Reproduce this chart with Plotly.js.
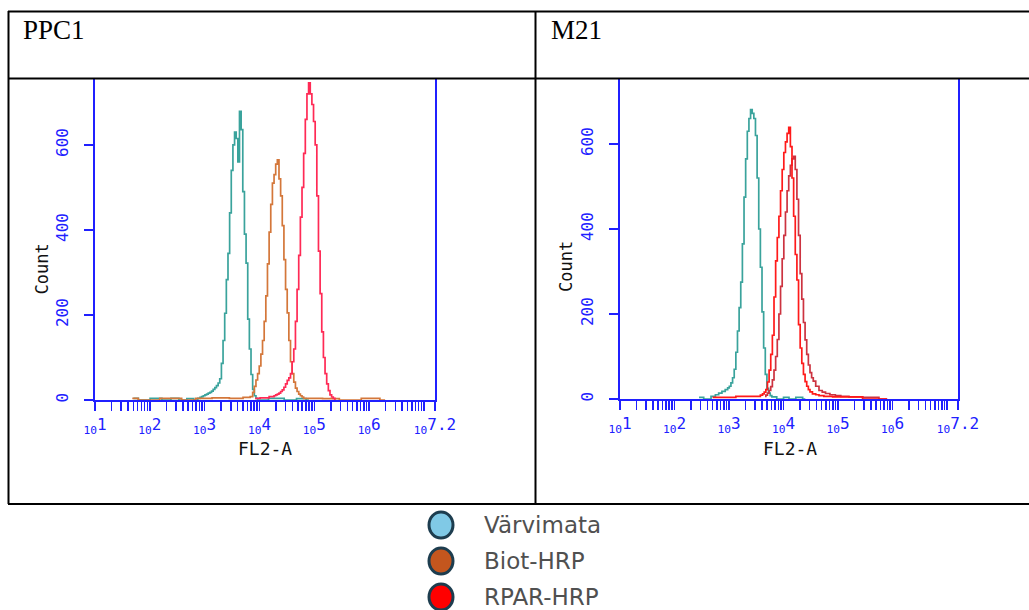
<!DOCTYPE html>
<html><head><meta charset="utf-8">
<script src="https://cdn.plot.ly/plotly-3.0.1.min.js"></script>
<style>html,body{margin:0;padding:0;background:#fff;} #chart{width:1029px;height:610px;}</style>
</head><body><div id="chart"></div>
<script>
// ---------------- DATA ----------------
const panelTitles = ["PPC1", "M21"];
const seriesNames = ["Värvimata", "Biot-HRP", "RPAR-HRP"];
const xAxisTitle = "FL2-A";
const yAxisTitle = "Count";
const xTickExp = [1, 2, 3, 4, 5, 6, 7.2];
const xTickText = ["<sub>10</sub>1", "<sub>10</sub>2", "<sub>10</sub>3", "<sub>10</sub>4", "<sub>10</sub>5", "<sub>10</sub>6", "<sub>10</sub>7.2"];
const yTickVals = [0, 200, 400, 600];
const yTickText = ["0", "200", "400", "600"];

// PPC1 histograms: bin position (log10 of FL2-A) and count
const ppcVarvLog = [1.70,1.88,2.13,2.31,2.46,2.60,2.75,2.85,
  2.90,2.93,2.96,2.99,3.02,3.05,3.08,3.11,3.14,3.17,3.20,3.23,3.26,3.29,3.32,3.35,3.38,3.41,3.44,3.47,3.50,3.53,3.56,3.59,3.62,3.65,3.68,3.71,3.74,3.77,3.80,3.83,3.86,3.89,3.92,3.95,3.98,
  4.35,4.55,4.80,4.90];
const ppcVarvCount = [4,0,4,0,4,0,3,0,
  4,6,8,10,12,14,16,18,21,25,29,34,40,50,86,140,204,283,345,440,540,600,630,615,560,679,636,490,390,322,190,120,60,25,10,4,0,
  4,0,3,0];

const ppcBiotLog = [1.68,1.90,2.46,2.70,2.97,3.30,3.60,3.80,
  3.86,3.89,3.92,3.95,3.98,4.01,4.04,4.07,4.10,4.13,4.16,4.19,4.22,4.25,4.28,4.31,4.34,4.37,4.40,4.43,4.46,4.49,4.52,4.55,4.58,4.61,4.64,4.67,4.70,4.73,4.76,4.79,4.82,
  5.00,5.30,5.61,6.10,6.29];
const ppcBiotCount = [4,0,4,0,4,5,4,6,
  8,18,32,47,62,80,108,140,185,245,320,395,460,510,530,555,565,520,480,410,330,260,205,140,90,62,42,28,20,14,10,7,4,
  4,3,0,4,0];

const ppcRparLog = [3.92,4.10,
  4.25,4.28,4.31,4.34,4.37,4.40,4.43,4.46,4.49,4.52,4.55,4.58,4.61,4.64,4.67,4.70,4.73,4.76,4.79,4.82,4.85,4.88,4.91,4.94,4.97,5.00,5.03,5.06,5.09,5.12,5.15,5.18,5.21,5.24,5.27,5.30,5.33,5.36,5.39];
const ppcRparCount = [4,5,
  8,10,12,14,16,20,24,30,38,46,52,62,90,120,185,260,340,430,500,580,660,720,746,720,695,655,600,480,350,250,160,100,62,38,22,12,7,4,0];

// M21 histograms
const m21VarvLog = [2.45,2.62,
  2.72,2.78,2.84,2.90,2.96,
  2.99,3.02,3.05,3.08,3.11,3.14,3.17,3.20,3.23,3.26,3.29,3.32,3.35,3.38,3.41,3.44,3.47,3.50,3.53,3.56,3.59,3.62,3.65,3.68,3.71,3.74,3.77,3.80,
  3.95,4.05,4.15,4.30,4.40];
const m21VarvCount = [4,0,
  6,10,14,18,22,
  26,30,38,50,70,110,160,215,275,365,475,565,630,660,681,672,660,620,520,400,310,205,120,58,25,14,8,5,
  0,4,0,4,0];

const m21BiotLog = [3.66,3.69,3.72,3.75,3.78,3.81,3.84,3.87,3.90,3.93,3.96,3.99,4.02,4.05,4.08,4.11,4.14,4.17,4.20,4.23,4.26,4.29,4.32,4.35,4.38,4.41,4.44,4.47,4.50,4.53,4.56,
  4.62,4.68,4.74,4.80,4.90,5.00,5.10,5.30,5.60,5.90];
const m21BiotCount = [6,9,14,20,29,45,68,100,140,200,265,330,385,440,490,525,550,565,571,540,470,385,295,235,180,139,105,80,62,50,42,
  30,20,16,13,10,8,6,5,4,0];

const m21RparLog = [2.70,3.55,
  3.60,3.63,3.66,3.69,3.72,3.75,3.78,3.81,3.84,3.87,3.90,3.93,3.96,3.99,4.02,4.05,4.08,4.11,4.14,4.17,4.20,4.23,4.26,4.29,4.32,4.35,4.38,4.41,4.44,4.47,4.50,
  4.56,4.62,4.68,4.80,5.00,5.90];
const m21RparCount = [4,6,
  9,12,16,22,40,68,105,150,240,325,380,430,490,540,580,605,625,639,594,520,430,340,280,175,120,84,58,41,30,22,17,
  12,10,8,6,5,0];

// ---------------- STYLE ----------------
const W = 1029, H = 610;
const BLUE = "#2020ff";
const px = v => v / W;
const py = v => 1 - v / H;
const toVal = arr => arr.map(L => Math.pow(10, L));

function hist(logs, counts, color, xa, ya, name) {
  return {x: toVal(logs), y: counts, type: "scatter", mode: "lines",
    line: {shape: "hvh", width: 1.7, color: color}, xaxis: xa, yaxis: ya,
    name: name, showlegend: false, hoverinfo: "skip"};
}

const traces = [
  hist(ppcVarvLog, ppcVarvCount, "#3aa39c", "x", "y", seriesNames[0]),
  hist(ppcBiotLog, ppcBiotCount, "#d4773a", "x", "y", seriesNames[1]),
  hist(ppcRparLog, ppcRparCount, "#ff2a55", "x", "y", seriesNames[2]),
  hist(m21VarvLog, m21VarvCount, "#3aa39c", "x2", "y2", seriesNames[0]),
  hist(m21BiotLog, m21BiotCount, "#cc3340", "x2", "y2", seriesNames[1]),
  hist(m21RparLog, m21RparCount, "#ff1a1a", "x2", "y2", seriesNames[2])
];

// labelled ticks at decades (and the 10^7.2 end), log minor ticks in between
const majorVals = xTickExp.map(e => Math.pow(10, e));
const minorVals = [];
for (let d = 1; d <= 7; d++) {
  for (let k = 2; k <= 9; k++) {
    const v = k * Math.pow(10, d);
    if (Math.log10(v) < 7.2) minorVals.push(v);
  }
}
minorVals.push(Math.pow(10, 7));

function xaxisCfg(domain) {
  return {domain: domain, type: "log", range: [1, 7.2], showgrid: false, zeroline: false,
    showline: true, linecolor: BLUE, linewidth: 2, ticks: "outside", ticklen: 9, tickwidth: 1.5,
    tickcolor: BLUE, tickmode: "array", tickvals: majorVals, ticktext: xTickText,
    minor: {tickmode: "array", tickvals: minorVals, ticks: "outside", ticklen: 9, tickwidth: 1.5,
      tickcolor: BLUE, showgrid: false},
    tickfont: {family: "DejaVu Sans Mono", size: 16, color: BLUE}, ticklabelstandoff: 0,
    tickangle: 0, fixedrange: true};
}
function yaxisCfg(domain, top, anchor) {
  return {domain: domain, range: [0, top], showgrid: false, zeroline: false, anchor: anchor,
    showline: true, mirror: true, linecolor: BLUE, linewidth: 2, ticks: "outside", ticklen: 9,
    tickwidth: 1.5, tickcolor: BLUE, tickmode: "array", tickvals: yTickVals, ticktext: yTickText,
    tickfont: {family: "DejaVu Sans Mono", size: 16, color: BLUE}, tickangle: -90,
    ticklabelstandoff: 10, fixedrange: true};
}

function hline(x0, x1, y, w) {
  return {type: "line", xref: "paper", yref: "paper", x0: px(x0), x1: px(x1), y0: py(y), y1: py(y),
    line: {color: "#000", width: w || 2}};
}
function vline(x, y0, y1, w) {
  return {type: "line", xref: "paper", yref: "paper", x0: px(x), x1: px(x), y0: py(y0), y1: py(y1),
    line: {color: "#000", width: w || 2}};
}

const legendFill = ["#80c9e6", "#c4561e", "#ff0000"];
const legendY = [525, 561, 597];

const shapes = [
  hline(8, 1029, 11.5), hline(8, 1029, 78.5), hline(8, 1029, 504),
  vline(8.5, 11, 504), vline(535.5, 11, 504)
];
legendY.forEach((yc, i) => {
  shapes.push({type: "circle", xref: "paper", yref: "paper",
    x0: px(429), x1: px(453), y0: py(yc - 13), y1: py(yc + 13),
    fillcolor: legendFill[i], line: {color: "#1d3d4f", width: 3}});
});

const annotations = [];
function addText(text, x, y, font, opts) {
  annotations.push(Object.assign({text: text, x: px(x), y: py(y), xref: "paper", yref: "paper",
    xanchor: "center", yanchor: "middle", showarrow: false, font: font}, opts || {}));
}
const titleFont = {family: "Liberation Serif", size: 27, color: "#000"};
addText(panelTitles[0], 21, 30, titleFont, {xanchor: "left"});
addText(panelTitles[1], 549, 30, titleFont, {xanchor: "left"});
const yTitleFont = {family: "DejaVu Sans Mono", size: 17, color: "#111"};
addText(yAxisTitle, 41.5, 269, yTitleFont, {textangle: -90});
addText(yAxisTitle, 566, 267, yTitleFont, {textangle: -90});
const xTitleFont = {family: "DejaVu Sans Mono", size: 18, color: "#111"};
addText(xAxisTitle, 265, 448, xTitleFont);
addText(xAxisTitle, 790, 448, xTitleFont);
const legFont = {family: "DejaVu Sans", size: 23, color: "#505050"};
legendY.forEach((yc, i) => addText(seriesNames[i], 482, yc, legFont, {xanchor: "left"}));

const layout = {
  width: W, height: H, margin: {l: 0, r: 0, t: 0, b: 0},
  paper_bgcolor: "#fff", plot_bgcolor: "#fff", showlegend: false,
  xaxis: Object.assign(xaxisCfg([px(95), px(435)]), {anchor: "y"}),
  yaxis: yaxisCfg([py(400), py(79)], 755, "x"),
  xaxis2: Object.assign(xaxisCfg([px(620), px(958)]), {anchor: "y2"}),
  yaxis2: yaxisCfg([py(399), py(79)], 753, "x2"),
  shapes: shapes, annotations: annotations
};

Plotly.newPlot("chart", traces, layout, {staticPlot: true, displayModeBar: false});
</script>
</body></html>
